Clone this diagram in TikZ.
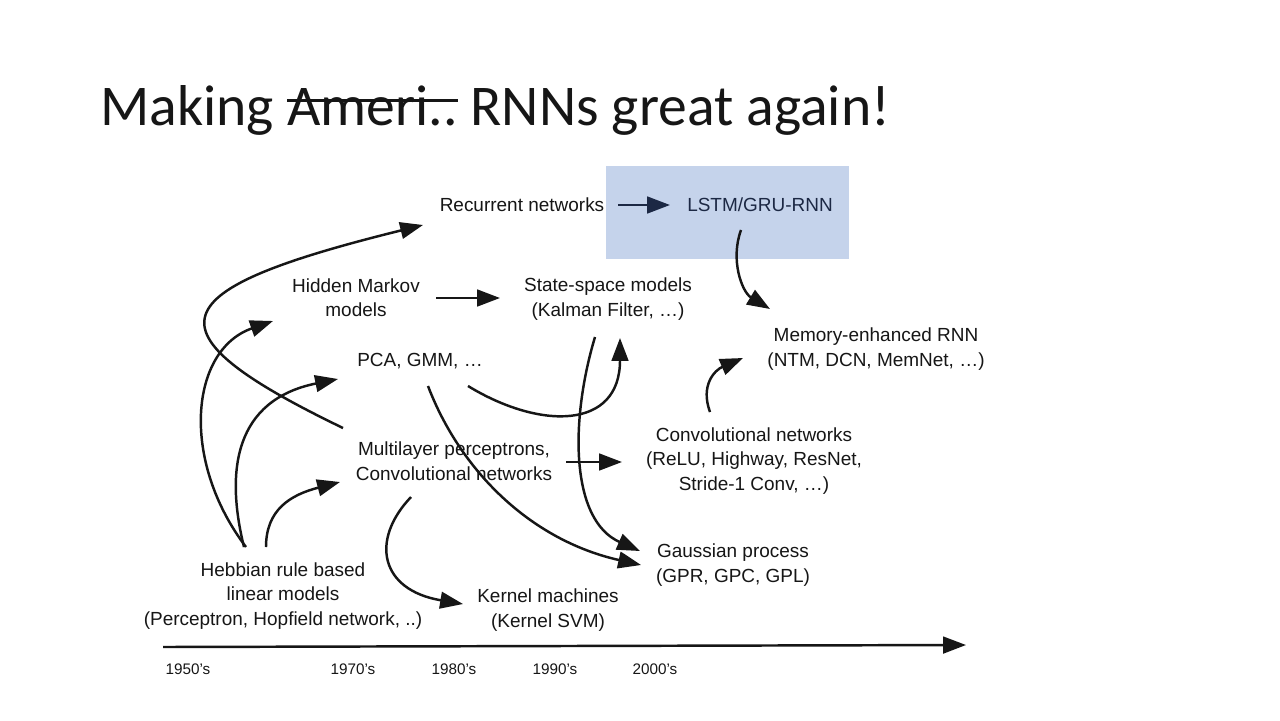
\documentclass[tikz,border=0pt]{standalone}
\usepackage{fontspec}
\setmainfont{Liberation Sans}
\newfontfamily\titlefont{Carlito}
\usetikzlibrary{arrows.meta}
\definecolor{boxblue}{RGB}{197,211,235}
\definecolor{navy}{RGB}{28,40,68}
\definecolor{ink}{RGB}{22,22,22}
\newcommand{\crossout}[1]{\setbox0\hbox{#1}\rlap{\rule[0.85ex]{\wd0}{1.4pt}}\box0\relax}

\begin{document}
\begin{tikzpicture}[x=0.02cm, y=-0.02cm, >={Triangle[length=13pt, width=9.5pt]},
    lbl/.style={align=center, inner sep=1pt, text=ink, font=\fontsize{10.8}{13.9}\selectfont},
    year/.style={inner sep=0pt, text=ink, font=\fontsize{8.7}{10}\selectfont},
    flow/.style={->, line width=1.4pt, draw=ink}]
    % Canvas
    \fill[white] (0,0) rectangle (1280,720);
    \useasboundingbox (0,0) rectangle (1280,720);

    % Title
    \node[anchor=base west, inner sep=0pt, text=ink, font=\titlefont\fontsize{32.8}{40}\selectfont] (title) at (100,125)
        {Making \crossout{Ameri..} RNNs great again!};

    % Highlight behind LSTM
    \fill[boxblue] (606,166) rectangle (849,259);

    % Models
    \node[lbl] (rec) at (522,205) {Recurrent networks};
    \node[lbl, text=navy] (lstm) at (760,205) {LSTM/GRU-RNN};
    \node[lbl] (hmm) at (356,298) {Hidden Markov\\models};
    \node[lbl] (ssm) at (608,299) {State-space models\\(Kalman Filter, …)};
    \node[lbl] (pca) at (420,361) {PCA, GMM, …};
    \node[lbl] (mem) at (876,349) {Memory-enhanced RNN\\(NTM, DCN, MemNet, …)};
    \node[lbl] (mlp) at (454,461) {Multilayer perceptrons,\\Convolutional networks};
    \node[lbl] (cnn) at (754,461) {Convolutional networks\\(ReLU, Highway, ResNet,\\Stride-1 Conv, …)};
    \node[lbl] (heb) at (283,596) {Hebbian rule based\\linear models\\(Perceptron, Hopfield network, ..)};
    \node[lbl] (gp) at (733,565) {Gaussian process\\(GPR, GPC, GPL)};
    \node[lbl] (kern) at (548,610) {Kernel machines\\(Kernel SVM)};

    % Arrows
    \draw[flow, draw=navy, fill=navy] ([shift={(96,0)}]rec.center) -- ([shift={(-90,0)}]lstm.center);
    \draw[flow] ([shift={(-19,25)}]lstm.center) .. controls (730,260) and (742,292) .. ([shift={(-106,-40)}]mem.center);
    \draw[flow] ([shift={(80,0)}]hmm.center) -- ([shift={(-108,-1)}]ssm.center);
    \draw[flow] ([shift={(-111,-33)}]mlp.center) .. controls (140,330) and (160,290) .. ([shift={(-99,20)}]rec.center);
    \draw[flow] ([shift={(-37,-49)}]heb.center) .. controls (180,460) and (190,350) .. ([shift={(-83,23)}]hmm.center);
    \draw[flow] ([shift={(-39,-49)}]heb.center) .. controls (225,470) and (235,400) .. ([shift={(-82,18)}]pca.center);
    \draw[flow] ([shift={(-17,-49)}]heb.center) .. controls (266,510) and (290,495) .. ([shift={(-114,21)}]mlp.center);
    \draw[flow] ([shift={(48,25)}]pca.center) .. controls (540,430) and (620,430) .. ([shift={(12,39)}]ssm.center);
    \draw[flow] ([shift={(-13,38)}]ssm.center) .. controls (570,420) and (570,520) .. ([shift={(-93,-14)}]gp.center);
    \draw[flow] ([shift={(8,25)}]pca.center) .. controls (460,470) and (530,540) .. ([shift={(-92,0)}]gp.center);
    \draw[flow] ([shift={(112,1)}]mlp.center) -- ([shift={(-132,1)}]cnn.center);
    \draw[flow] ([shift={(-43,36)}]mlp.center) .. controls (370,540) and (380,590) .. ([shift={(-85,-6)}]kern.center);
    \draw[flow] ([shift={(-44,-49)}]cnn.center) .. controls (700,385) and (715,370) .. ([shift={(-133,9)}]mem.center);

    % Time axis
    \coordinate (t0) at (163,647);
    \coordinate (t1) at (966,645);
    \draw[flow] (t0) -- (t1);
    \foreach \yr/\px in {1950/188, 1970/353, 1980/454, 1990/555, 2000/655}
        \node[year] (y\yr) at (\px,669) {\yr’s};
\end{tikzpicture}
\end{document}
